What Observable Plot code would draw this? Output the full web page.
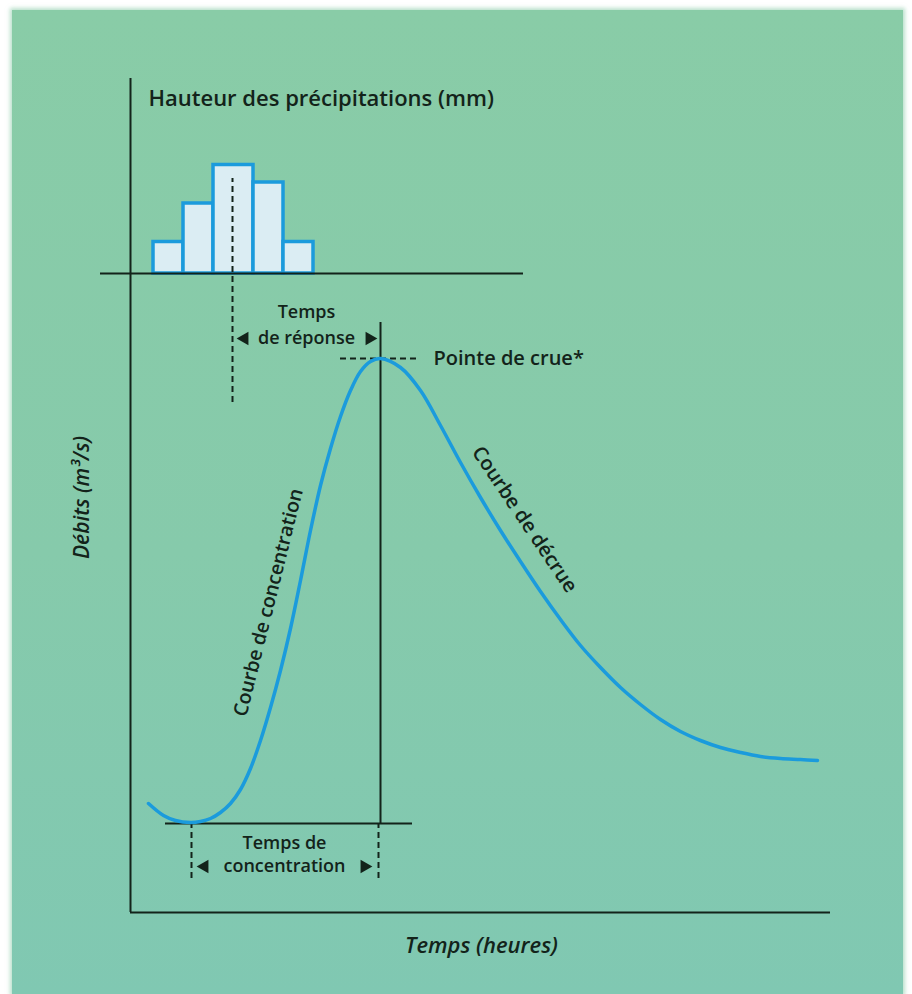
<!DOCTYPE html>
<html>
<head>
<meta charset="utf-8">
<script src="https://cdn.jsdelivr.net/npm/d3@7"></script>
<script src="https://cdn.jsdelivr.net/npm/@observablehq/plot@0.6"></script>
<style>
  html, body { margin: 0; padding: 0; background: #ffffff; }
  #wrap { position: relative; width: 912px; height: 994px; overflow: hidden; }
  #panel { position: absolute; left: 12px; top: 10px; width: 891px; height: 984px;
           background: linear-gradient(180deg, #89cca7 0%, #86caab 55%, #80c8b2 100%);
           box-shadow: 0 0 4px 2px rgba(138,204,168,0.6); }
  #chart { position: absolute; left: 0; top: 0; }
</style>
</head>
<body>
<div id="wrap"><div id="panel"></div><div id="chart"></div></div>
<script>
// ---- Data (time in hours, discharge in m3/s, rain in mm) ----
const hydroHours = [1.8, 3.3, 4.5, 6.0, 7.0, 8.0, 9.0, 10.0, 11.0, 12.0, 13.0, 14.0, 15.0, 16.0, 17.0, 18.0, 19.0, 20.0, 21.0, 22.0, 23.0, 24.0, 25.0,
  27, 29, 31, 33, 35, 37, 39, 41, 43, 45, 47, 49, 51, 53, 55, 57, 59, 61, 63, 65, 67, 68.7];
const hydroDischarge = [10.9, 9.7, 9.2, 9.0, 9.1, 9.4, 10.0, 10.9, 12.3, 14.4, 17.2, 20.5, 24.2, 28.4, 33.2, 38.2, 42.7, 46.4, 49.6, 52.2, 54.1, 55.1, 55.4,
  54.5, 52.2, 48.7, 45.0, 41.5, 38.2, 35.1, 32.1, 29.3, 26.7, 24.5, 22.5, 20.8, 19.3, 18.1, 17.2, 16.5, 16.0, 15.6, 15.4, 15.3, 15.2];
const rainEdges = [2.3, 5.3, 8.3, 12.3, 15.3, 18.3];
const rainMm = [9, 20, 31, 26, 9];
const rainCentreHour = 10.2;
const peakHour = 25.0;
const peakDischarge = 55.4;
const riseStartHour = 6.1;
const baseFlow = 8.9;
const labels = {
  rain: "Hauteur des précipitations (mm)",
  yAxis: "Débits (m³/s)",
  xAxis: "Temps (heures)",
  peak: "Pointe de crue*",
  responseA: "Temps",
  responseB: "de réponse",
  concA: "Temps de",
  concB: "concentration",
  rising: "Courbe de concentration",
  falling: "Courbe de décrue"
};

// ---- Derived tables ----
const hydro = hydroHours.map((t, i) => ({t, q: hydroDischarge[i]}));
const rainBase = 63.9;     // where the rain panel baseline sits on the discharge scale
const mmToUnit = 0.35;     // rain panel vertical scale
const rain = rainMm.map((mm, i) => ({t1: rainEdges[i], t2: rainEdges[i + 1], mm}));

const ink = "#13231a";
const blue = "#1b9bdc";
const font = "'Open Sans', sans-serif";

const chart = Plot.plot({
  width: 912,
  height: 994,
  marginLeft: 130,
  marginRight: 82,
  marginTop: 72,
  marginBottom: 82,
  x: {domain: [0, 70], axis: null},
  y: {domain: [0, 84], axis: null},
  style: {background: "transparent", fontFamily: font, color: ink, overflow: "visible"},
  marks: [
    // rain bars
    Plot.rect(rain, {x1: "t1", x2: "t2", y1: rainBase, y2: d => rainBase + d.mm * mmToUnit,
      fill: "#dbedf3", stroke: blue, strokeWidth: 3.5}),
    // rain baseline
    Plot.ruleY([rainBase], {x1: -3, x2: 39.3, stroke: ink, strokeWidth: 2}),
    // rain centre dashed line
    Plot.ruleX([rainCentreHour], {y1: 51.0, y2: 73.4, stroke: ink, strokeWidth: 2, strokeDasharray: "6,4"}),
    // main axes
    Plot.ruleX([0], {y1: 0, y2: 83.4, stroke: ink, strokeWidth: 2}),
    Plot.ruleY([0], {x1: 0, x2: 70, stroke: ink, strokeWidth: 2}),
    // base-flow line and peak vertical
    Plot.ruleY([baseFlow], {x1: 3.5, x2: 28.2, stroke: ink, strokeWidth: 2}),
    Plot.ruleX([peakHour], {y1: baseFlow, y2: 59.0, stroke: ink, strokeWidth: 2}),
    // peak dashed horizontal
    Plot.ruleY([peakDischarge], {x1: 21, x2: 29, stroke: ink, strokeWidth: 2, strokeDasharray: "6,4"}),
    // concentration-time dashed verticals
    Plot.ruleX([riseStartHour, peakHour - 0.2], {y1: 3.4, y2: baseFlow, stroke: ink, strokeWidth: 2, strokeDasharray: "6,4"}),
    // hydrograph
    Plot.line(hydro, {x: "t", y: "q", curve: "catmull-rom", stroke: blue, strokeWidth: 3.5}),
    // arrows
    Plot.dot([11.4], {x: d => d, y: 57.4, symbol: "triangle2", r: 6.5, rotate: -90, fill: ink, stroke: null}),
    Plot.dot([23.9], {x: d => d, y: 57.4, symbol: "triangle2", r: 6.5, rotate: 90, fill: ink, stroke: null}),
    Plot.dot([7.4], {x: d => d, y: 4.6, symbol: "triangle2", r: 6.5, rotate: -90, fill: ink, stroke: null}),
    Plot.dot([23.4], {x: d => d, y: 4.6, symbol: "triangle2", r: 6.5, rotate: 90, fill: ink, stroke: null}),
    // texts
    Plot.text([labels.rain], {x: 1.8, y: 81.4, text: d => d, textAnchor: "start", fontSize: 22, fontWeight: 600, fill: ink}),
    Plot.text([labels.peak], {x: 30.3, y: peakDischarge, text: d => d, textAnchor: "start", fontSize: 20, fontWeight: 600, fill: ink}),
    Plot.text([labels.responseA], {x: 17.6, y: 60.0, text: d => d, fontSize: 18, fontWeight: 600, fill: ink}),
    Plot.text([labels.responseB], {x: 17.6, y: 57.4, text: d => d, fontSize: 18, fontWeight: 600, fill: ink}),
    Plot.text([labels.concA], {x: 15.4, y: 6.9, text: d => d, fontSize: 18, fontWeight: 600, fill: ink}),
    Plot.text([labels.concB], {x: 15.4, y: 4.6, text: d => d, fontSize: 18, fontWeight: 600, fill: ink}),
    Plot.text([labels.rising], {x: 13.8, y: 31.0, text: d => d, rotate: -76, fontSize: 19.5, fontWeight: 600, fill: ink}),
    Plot.text([labels.falling], {x: 39.4, y: 39.3, text: d => d, rotate: 56, fontSize: 20, fontWeight: 600, fill: ink}),
    Plot.text([labels.yAxis], {x: -4.8, y: 41.5, text: d => d, rotate: -90, fontSize: 21, fontWeight: 600, fontStyle: "italic", fill: ink}),
    Plot.text([labels.xAxis], {x: 35.1, y: -3.3, text: d => d, fontSize: 22, fontWeight: 600, fontStyle: "italic", fill: ink})
  ]
});
document.getElementById("chart").appendChild(chart);
</script>
</body>
</html>
